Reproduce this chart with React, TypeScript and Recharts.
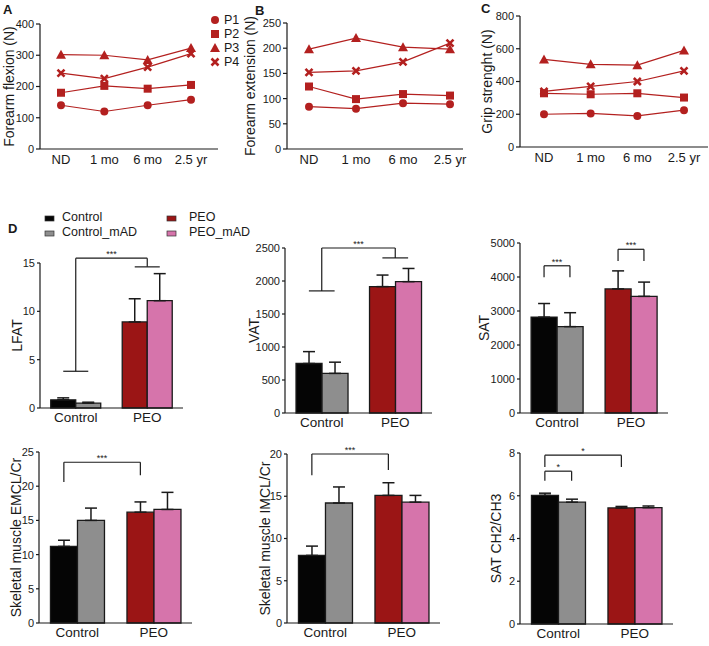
import React from "react";
import {
  LineChart,
  Line,
  BarChart,
  Bar,
  Cell,
  XAxis,
  YAxis,
  ErrorBar,
  ReferenceLine,
} from "recharts";

const RED = "#b3201f";
const INK = "#1a1a1a";
const FONT = "'Liberation Sans', Arial, sans-serif";

// panels A-C
const timepoints = ["ND", "1 mo", "6 mo", "2.5 yr"];
const patients = ["P1", "P2", "P3", "P4"];

const flexionP1 = [140, 120, 140, 158];
const flexionP2 = [180, 202, 193, 205];
const flexionP3 = [302, 300, 285, 323];
const flexionP4 = [243, 225, 262, 305];

const extensionP1 = [84, 80, 91, 89];
const extensionP2 = [124, 99, 109, 106];
const extensionP3 = [198, 220, 202, 198];
const extensionP4 = [152, 155, 173, 210];

const gripP1 = [200, 205, 190, 225];
const gripP2 = [328, 322, 328, 302];
const gripP3 = [535, 505, 500, 590];
const gripP4 = [340, 370, 400, 465];

// panel D, order: Control, Control_mAD, PEO, PEO_mAD
const groups = ["Control", "PEO"];
const conditions = ["Control", "Control_mAD", "PEO", "PEO_mAD"];
const conditionColors = ["#050505", "#8e8e8e", "#9b1515", "#d674ab"];

const lfatMean = [0.85, 0.5, 8.9, 11.1];
const lfatSem = [0.2, 0.1, 2.4, 2.8];
const vatMean = [750, 600, 1915, 1990];
const vatSem = [180, 170, 175, 200];
const satMean = [2820, 2540, 3650, 3430];
const satSem = [400, 410, 530, 420];
const emclMean = [11.2, 15.0, 16.2, 16.6];
const emclSem = [0.9, 1.8, 1.5, 2.5];
const imclMean = [8.0, 14.2, 15.1, 14.3];
const imclSem = [1.1, 1.9, 1.5, 0.8];
const ch2Mean = [6.02, 5.7, 5.43, 5.44];
const ch2Sem = [0.1, 0.14, 0.07, 0.08];

// significance brackets; from/to are bar slots 0..3 (0.5 / 2.5 = group centre)
type Bracket = {
  from: number;
  to: number;
  top: number;
  leftEnd: number;
  rightEnd: number;
  label: string;
  caps?: boolean;
};

const lfatBrackets: Bracket[] = [
  { from: 0.5, to: 2.5, top: 15.5, leftEnd: 3.8, rightEnd: 14.6, label: "***", caps: true },
];
const vatBrackets: Bracket[] = [
  { from: 0.5, to: 2.5, top: 2500, leftEnd: 1850, rightEnd: 2350, label: "***", caps: true },
];
const satBrackets: Bracket[] = [
  { from: 0, to: 1, top: 4330, leftEnd: 3990, rightEnd: 3990, label: "***" },
  { from: 2, to: 3, top: 4815, leftEnd: 4470, rightEnd: 4470, label: "***" },
];
const emclBrackets: Bracket[] = [
  { from: 0, to: 2, top: 23.5, leftEnd: 20.6, rightEnd: 21.6, label: "***" },
];
const imclBrackets: Bracket[] = [
  { from: 0, to: 2, top: 20, leftEnd: 17.5, rightEnd: 18.1, label: "***" },
];
const ch2Brackets: Bracket[] = [
  { from: 0, to: 1, top: 7.15, leftEnd: 6.7, rightEnd: 6.7, label: "*" },
  { from: 0, to: 2, top: 7.9, leftEnd: 7.35, rightEnd: 7.35, label: "*" },
];

const GAP = 0.15;
const BAR_W = (1 - 2 * GAP) / 2;
// slot -> category units (group centres at 0 and 1)
const slotX = (s: number) => (s < 1.5 ? (s - 0.5) * BAR_W : 1 + (s - 2.5) * BAR_W);
// category units -> hidden 0..1 axis spanning the plot
const toNorm = (u: number) => (u + 0.5) / 2;

type Box = { x: number; y: number; w: number; h: number };
type Plot = { L: number; R: number; T: number; B: number };

const markerKind: Record<string, string> = {
  P1: "circle",
  P2: "square",
  P3: "triangle",
  P4: "cross",
};

function Marker({ cx, cy, kind }: { cx?: number; cy?: number; kind: string }) {
  if (cx == null || cy == null) return null;
  if (kind === "circle") return <circle cx={cx} cy={cy} r={4} fill={RED} />;
  if (kind === "square")
    return <rect x={cx - 4} y={cy - 4} width={8} height={8} fill={RED} />;
  if (kind === "triangle")
    return (
      <polygon
        points={`${cx},${cy - 5} ${cx + 5},${cy + 4} ${cx - 5},${cy + 4}`}
        fill={RED}
      />
    );
  return (
    <path
      d={`M${cx - 3.5},${cy - 3.5}L${cx + 3.5},${cy + 3.5}M${cx - 3.5},${cy + 3.5}L${cx + 3.5},${cy - 3.5}`}
      stroke={RED}
      strokeWidth={2.6}
    />
  );
}

function AxisTitle({ tx, ty, caption }: { tx: number; ty: number; caption: string }) {
  return (
    <text
      x={tx}
      y={ty}
      transform={`rotate(-90 ${tx} ${ty})`}
      textAnchor="middle"
      dominantBaseline="central"
      fontSize={14}
      fill={INK}
    >
      {caption}
    </text>
  );
}

const axisStroke = { stroke: INK, strokeWidth: 1.2 };

function TrendPanel({
  box,
  plot,
  pad,
  yMax,
  yTicks,
  title,
  titleX,
  values,
}: {
  box: Box;
  plot: Plot;
  pad: { left: number; right: number };
  yMax: number;
  yTicks: number[];
  title: string;
  titleX: number;
  values: number[][];
}) {
  const rows = timepoints.map((t, i) => {
    const row: Record<string, number | string> = { t };
    patients.forEach((p, k) => (row[p] = values[k][i]));
    return row;
  });
  const margin = {
    top: plot.T - box.y,
    right: box.x + box.w - plot.R,
    bottom: box.y + box.h - plot.B - 30,
    left: plot.L - box.x - 36,
  };
  return (
    <div style={{ position: "absolute", left: box.x, top: box.y }}>
      <LineChart width={box.w} height={box.h} data={rows} margin={margin}>
        <XAxis
          dataKey="t"
          scale="point"
          padding={pad}
          height={30}
          interval={0}
          tickLine={false}
          tickSize={4}
          tickMargin={2}
          axisLine={axisStroke}
          tick={{ fontSize: 13, fill: INK }}
        />
        <YAxis
          width={36}
          domain={[0, yMax]}
          ticks={yTicks}
          tickSize={4}
          tickMargin={2}
          axisLine={axisStroke}
          tickLine={axisStroke}
          tick={{ fontSize: 11, fill: INK }}
          label={
            <AxisTitle tx={titleX} ty={(plot.T + plot.B) / 2 - box.y} caption={title} />
          }
        />
        {patients.map((p) => (
          <Line
            key={p}
            dataKey={p}
            stroke={RED}
            strokeWidth={1.2}
            isAnimationActive={false}
            activeDot={false}
            dot={(d: any) => (
              <Marker key={`${p}-${d.index}`} cx={d.cx} cy={d.cy} kind={markerKind[p]} />
            )}
          />
        ))}
      </LineChart>
    </div>
  );
}

function bracketLines(b: Bracket, k: number) {
  const x1 = slotX(b.from);
  const x2 = slotX(b.to);
  const segs: [number, number, number, number][] = [
    [x1, b.leftEnd, x1, b.top],
    [x1, b.top, x2, b.top],
    [x2, b.top, x2, b.rightEnd],
  ];
  if (b.caps) {
    segs.push([x1 - BAR_W / 2, b.leftEnd, x1 + BAR_W / 2, b.leftEnd]);
    segs.push([x2 - BAR_W / 2, b.rightEnd, x2 + BAR_W / 2, b.rightEnd]);
  }
  return segs.map((s, i) => (
    <ReferenceLine
      key={`br-${k}-${i}`}
      xAxisId="n"
      ifOverflow="visible"
      segment={[
        { x: toNorm(s[0]), y: s[1] },
        { x: toNorm(s[2]), y: s[3] },
      ]}
      stroke={INK}
      strokeWidth={1.2}
      label={
        i === 1
          ? { value: b.label, position: "top", offset: 1, fontSize: 9, fill: INK }
          : undefined
      }
    />
  ));
}

function BarPanel({
  box,
  plot,
  yMax,
  yTicks,
  title,
  titleX,
  mean,
  sem,
  brackets,
}: {
  box: Box;
  plot: Plot;
  yMax: number;
  yTicks: number[];
  title: string;
  titleX: number;
  mean: number[];
  sem: number[];
  brackets: Bracket[];
}) {
  const rows = groups.map((g, i) => ({
    group: g,
    base: mean[i * 2],
    baseErr: [0, sem[i * 2]],
    mad: mean[i * 2 + 1],
    madErr: [0, sem[i * 2 + 1]],
  }));
  const margin = {
    top: plot.T - box.y,
    right: box.x + box.w - plot.R,
    bottom: box.y + box.h - plot.B - 20,
    left: plot.L - box.x - 36,
  };
  return (
    <div style={{ position: "absolute", left: box.x, top: box.y }}>
      <BarChart
        width={box.w}
        height={box.h}
        data={rows}
        margin={margin}
        barCategoryGap={`${GAP * 100}%`}
        barGap={0}
      >
        <XAxis
          xAxisId="c"
          dataKey="group"
          height={20}
          tickLine={false}
          tickSize={2}
          tickMargin={2}
          axisLine={axisStroke}
          tick={{ fontSize: 13.5, fill: INK }}
        />
        <XAxis xAxisId="n" type="number" domain={[0, 1]} hide allowDataOverflow />
        <YAxis
          width={36}
          domain={[0, yMax]}
          ticks={yTicks}
          tickSize={3}
          tickMargin={2}
          axisLine={axisStroke}
          tickLine={axisStroke}
          tick={{ fontSize: 11, fill: INK }}
          label={
            <AxisTitle tx={titleX} ty={(plot.T + plot.B) / 2 - box.y} caption={title} />
          }
        />
        <Bar
          xAxisId="c"
          dataKey="base"
          name={conditions[0]}
          stroke={INK}
          strokeWidth={1.3}
          isAnimationActive={false}
        >
          {rows.map((r, i) => (
            <Cell key={r.group} fill={conditionColors[i * 2]} />
          ))}
          <ErrorBar dataKey="baseErr" direction="y" width={6} stroke={INK} strokeWidth={1.5} />
        </Bar>
        <Bar
          xAxisId="c"
          dataKey="mad"
          name={conditions[1]}
          stroke={INK}
          strokeWidth={1.3}
          isAnimationActive={false}
        >
          {rows.map((r, i) => (
            <Cell key={r.group} fill={conditionColors[i * 2 + 1]} />
          ))}
          <ErrorBar dataKey="madErr" direction="y" width={6} stroke={INK} strokeWidth={1.5} />
        </Bar>
        {brackets.flatMap((b, k) => bracketLines(b, k))}
      </BarChart>
    </div>
  );
}

function Letter({ x, y, text }: { x: number; y: number; text: string }) {
  return (
    <div
      style={{
        position: "absolute",
        left: x,
        top: y,
        fontWeight: "bold",
        fontSize: 13,
        lineHeight: "13px",
      }}
    >
      {text}
    </div>
  );
}

function PatientLegend() {
  return (
    <svg
      style={{ position: "absolute", left: 205, top: 11 }}
      width={36}
      height={62}
    >
      {patients.map((p, i) => (
        <g key={p}>
          <Marker cx={10} cy={9 + i * 14} kind={markerKind[p]} />
          <text x={19} y={9 + i * 14} dominantBaseline="central" fontSize={12.5} fill={INK}>
            {p}
          </text>
        </g>
      ))}
    </svg>
  );
}

function ConditionLegend() {
  const cols = [40, 162];
  const rowsY = [217, 232];
  return (
    <svg style={{ position: "absolute", left: 0, top: 205 }} width={260} height={36}>
      {conditions.map((c, i) => {
        const x = cols[Math.floor(i / 2)];
        const y = rowsY[i % 2] - 205;
        return (
          <g key={c}>
            <rect
              x={x + 5}
              y={y - 1}
              width={9}
              height={5}
              fill={conditionColors[i]}
              stroke="#333"
              strokeWidth={0.7}
            />
            <text
              x={x + (i < 2 ? 22 : 27)}
              y={y}
              dominantBaseline="central"
              fontSize={12.5}
              fill={INK}
            >
              {c}
            </text>
          </g>
        );
      })}
    </svg>
  );
}

export default function App() {
  return (
    <div
      style={{
        position: "absolute",
        left: 0,
        top: 0,
        width: 709,
        height: 646,
        background: "#fff",
        fontFamily: FONT,
        color: INK,
        overflow: "hidden",
      }}
    >
      <TrendPanel
        box={{ x: 0, y: 0, w: 230, h: 185 }}
        plot={{ L: 40, R: 218, T: 24, B: 149 }}
        pad={{ left: 21, right: 27 }}
        yMax={400}
        yTicks={[0, 100, 200, 300, 400]}
        title="Forearm flexion (N)"
        titleX={9}
        values={[flexionP1, flexionP2, flexionP3, flexionP4]}
      />
      <TrendPanel
        box={{ x: 240, y: 0, w: 230, h: 185 }}
        plot={{ L: 287, R: 463, T: 23, B: 149 }}
        pad={{ left: 22, right: 13 }}
        yMax={250}
        yTicks={[0, 50, 100, 150, 200, 250]}
        title="Forearm extension (N)"
        titleX={10}
        values={[extensionP1, extensionP2, extensionP3, extensionP4]}
      />
      <TrendPanel
        box={{ x: 470, y: 0, w: 239, h: 185 }}
        plot={{ L: 520, R: 708, T: 16, B: 147 }}
        pad={{ left: 24, right: 24 }}
        yMax={800}
        yTicks={[0, 200, 400, 600, 800]}
        title="Grip strenght (N)"
        titleX={17}
        values={[gripP1, gripP2, gripP3, gripP4]}
      />
      <PatientLegend />

      <BarPanel
        box={{ x: 0, y: 240, w: 230, h: 200 }}
        plot={{ L: 40, R: 183, T: 263, B: 408 }}
        yMax={15}
        yTicks={[0, 5, 10, 15]}
        title="LFAT"
        titleX={17}
        mean={lfatMean}
        sem={lfatSem}
        brackets={lfatBrackets}
      />
      <BarPanel
        box={{ x: 240, y: 230, w: 230, h: 210 }}
        plot={{ L: 285, R: 432, T: 248, B: 413 }}
        yMax={2500}
        yTicks={[0, 500, 1000, 1500, 2000, 2500]}
        title="VAT"
        titleX={14}
        mean={vatMean}
        sem={vatSem}
        brackets={vatBrackets}
      />
      <BarPanel
        box={{ x: 470, y: 230, w: 239, h: 210 }}
        plot={{ L: 520, R: 668, T: 243, B: 413 }}
        yMax={5000}
        yTicks={[0, 1000, 2000, 3000, 4000, 5000]}
        title="SAT"
        titleX={14}
        mean={satMean}
        sem={satSem}
        brackets={satBrackets}
      />
      <BarPanel
        box={{ x: 0, y: 440, w: 230, h: 206 }}
        plot={{ L: 39, R: 192, T: 452, B: 623 }}
        yMax={25}
        yTicks={[0, 5, 10, 15, 20, 25]}
        title="Skeletal muscle EMCL/Cr"
        titleX={16}
        mean={emclMean}
        sem={emclSem}
        brackets={emclBrackets}
      />
      <BarPanel
        box={{ x: 240, y: 440, w: 230, h: 206 }}
        plot={{ L: 287, R: 440, T: 454, B: 623 }}
        yMax={20}
        yTicks={[0, 5, 10, 15, 20]}
        title="Skeletal muscle IMCL/Cr"
        titleX={25}
        mean={imclMean}
        sem={imclSem}
        brackets={imclBrackets}
      />
      <BarPanel
        box={{ x: 470, y: 440, w: 239, h: 206 }}
        plot={{ L: 520, R: 673, T: 453, B: 624 }}
        yMax={8}
        yTicks={[0, 2, 4, 6, 8]}
        title="SAT CH2/CH3"
        titleX={26}
        mean={ch2Mean}
        sem={ch2Sem}
        brackets={ch2Brackets}
      />
      <ConditionLegend />

      <Letter x={3} y={3} text="A" />
      <Letter x={255} y={4} text="B" />
      <Letter x={481} y={2} text="C" />
      <Letter x={8} y={222} text="D" />
    </div>
  );
}
